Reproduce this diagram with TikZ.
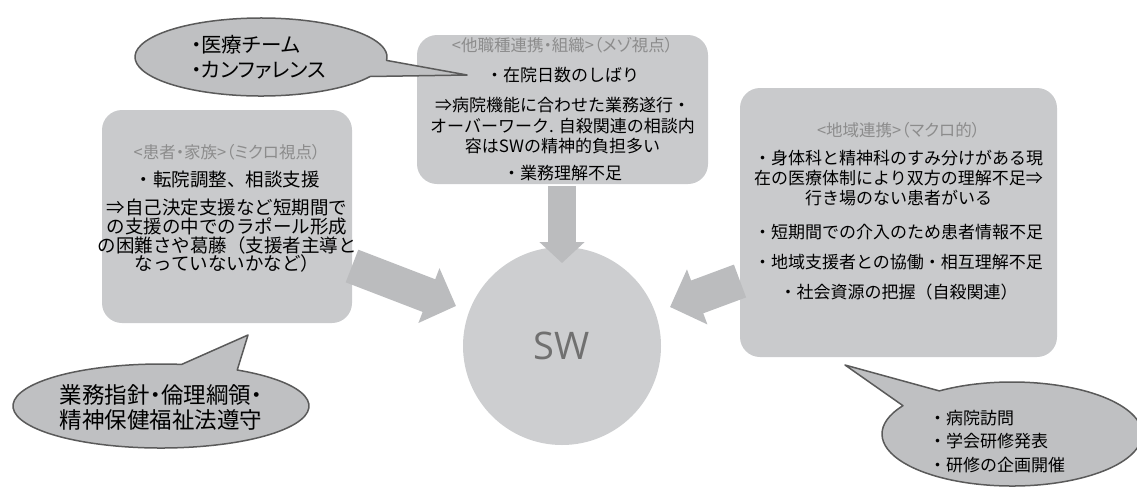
\documentclass[tikz,border=0pt]{standalone}
\usepackage{fontspec}
\setmainfont{Noto Sans CJK JP}
\newfontfamily\swfont{Open Sans}
\newfontfamily\paltfont[RawFeature=+palt]{Noto Sans CJK JP}
\usetikzlibrary{arrows.meta,calc}
\definecolor{boxgray}{HTML}{C9CACC}
\definecolor{circgray}{HTML}{CDCED0}
\definecolor{arrgray}{HTML}{BBBCBE}
\definecolor{callgray}{HTML}{BFC0C2}
\definecolor{callline}{HTML}{5A5A5A}
\definecolor{titlegray}{HTML}{8C8C8C}
\definecolor{swtext}{HTML}{707070}
\begin{document}
\begin{tikzpicture}[x=1pt,y=-1pt,
  panel/.style={fill=boxgray, rounded corners=20pt, inner sep=0pt},
  titletext/.style={inner sep=0pt, text=titlegray, font=\paltfont\fontsize{16.5}{18}\selectfont},
  bodytext/.style={inner sep=0pt, text=black, font=\fontsize{17}{20}\selectfont},
  bodybig/.style={inner sep=0pt, text=black, font=\fontsize{18.5}{20}\selectfont},
  bigarrow/.style={draw=arrgray, line width=35pt, line cap=butt,
     -{Triangle[length=29pt,width=57pt]}},
  smallarrow/.style={draw=arrgray, line width=28pt, line cap=butt,
     -{Triangle[length=21pt,width=44pt]}},
  callout/.style={fill=callgray, draw=callline, line width=1.5pt, line join=round},
  calltext/.style={inner sep=0pt, align=left, text=black}]
\useasboundingbox (0,0) rectangle (1137,488);

% panels
\node[panel, minimum width=250pt, minimum height=213pt] (lbox) at (227,216.5) {};
\node[panel, minimum width=291pt, minimum height=149pt] (tbox) at (562.5,109.5) {};
\node[panel, minimum width=317pt, minimum height=269pt] (rbox) at (898.5,222.5) {};

% central circle
\node[circle, fill=circgray, minimum size=198pt, inner sep=0pt] (sw) at (562,346) {};
\node[inner sep=0pt, text=swtext, font=\swfont\fontsize{38}{40}\selectfont] (swlabel) at (562,346) {SW};

% left panel text
\node[titletext] (l0) at (227,152) {<患者・家族>（ミクロ視点）};
\foreach \yy/\tt [count=\i] in {180/{・転院調整、相談支援},
    207/{⇒自己決定支援など短期間で},
    226/{の支援の中でのラポール形成},
    245/{の困難さや葛藤（支援者主導と},
    263/{なっていないかなど）}}
  \node[bodybig] (l\i) at (227,\yy) {\tt};

% top panel text
\node[titletext] (t0) at (562.5,45) {<他職種連携・組織>（メゾ視点）};
\foreach \yy/\tt [count=\i] in {75/{・在院日数のしばり},
    105/{⇒病院機能に合わせた業務遂行・},
    126/{オーバーワーク. 自殺関連の相談内},
    146/{容はSWの精神的負担多い},
    173/{・業務理解不足}}
  \node[bodytext] (t\i) at (562.5,\yy) {\tt};

% right panel text
\node[titletext] (r0) at (898.5,130) {<地域連携>（マクロ的）};
\foreach \yy/\tt [count=\i] in {158/{・身体科と精神科のすみ分けがある現},
    178/{在の医療体制により双方の理解不足⇒},
    198/{行き場のない患者がいる},
    232/{・短期間での介入のため患者情報不足},
    262/{・地域支援者との協働・相互理解不足},
    292/{・社会資源の把握（自殺関連）}}
  \node[bodytext] (r\i) at (898.5,\yy) {\tt};

% block arrows
\coordinate (tstart) at (562,186);
\coordinate (ttip) at (562,263);
\coordinate (lstart) at (352,266);
\coordinate (ltip) at (456,306);
\coordinate (rstart) at (740,281);
\coordinate (rtip) at (670,307);
\draw[smallarrow] (tstart) -- (ttip);
\draw[bigarrow] (lstart) -- (ltip);
\draw[bigarrow] (rstart) -- (rtip);

% callout top-left
\coordinate (c1) at (261,57);
\coordinate (c1tip) at (467,75);
\draw[callout] ($(c1)+(5:126 and 39)$) -- (c1tip) -- ($(c1)+(30:126 and 39)$)
  arc[start angle=30, end angle=365, x radius=126, y radius=39] -- cycle;
\node[calltext, anchor=west, font=\paltfont\fontsize{20.5}{25}\selectfont] (c1text) at (191,57.5)
  {・医療チーム\\・カンファレンス};

% callout bottom-left
\coordinate (c2) at (161,406);
\coordinate (c2tip) at (248,335);
\draw[callout] ($(c2)+(-82:148 and 42)$) -- (c2tip) -- ($(c2)+(-59:148 and 42)$)
  arc[start angle=-59, end angle=278, x radius=148, y radius=42] -- cycle;
\node[calltext, font=\paltfont\fontsize{22.5}{25}\selectfont] (c2text) at (161,407.5)
  {業務指針・倫理綱領・\\精神保健福祉法遵守};

% callout bottom-right
\coordinate (c3) at (1012,434);
\coordinate (c3tip) at (845,365);
\draw[callout] ($(c3)+(-147:130 and 52)$) -- (c3tip) -- ($(c3)+(-124:130 and 52)$)
  arc[start angle=-124, end angle=213, x radius=130, y radius=52] -- cycle;
\node[calltext, anchor=west, font=\fontsize{17}{23.5}\selectfont] (c3text) at (929,441.5)
  {・病院訪問\\・学会研修発表\\・研修の企画開催};
\end{tikzpicture}
\end{document}
